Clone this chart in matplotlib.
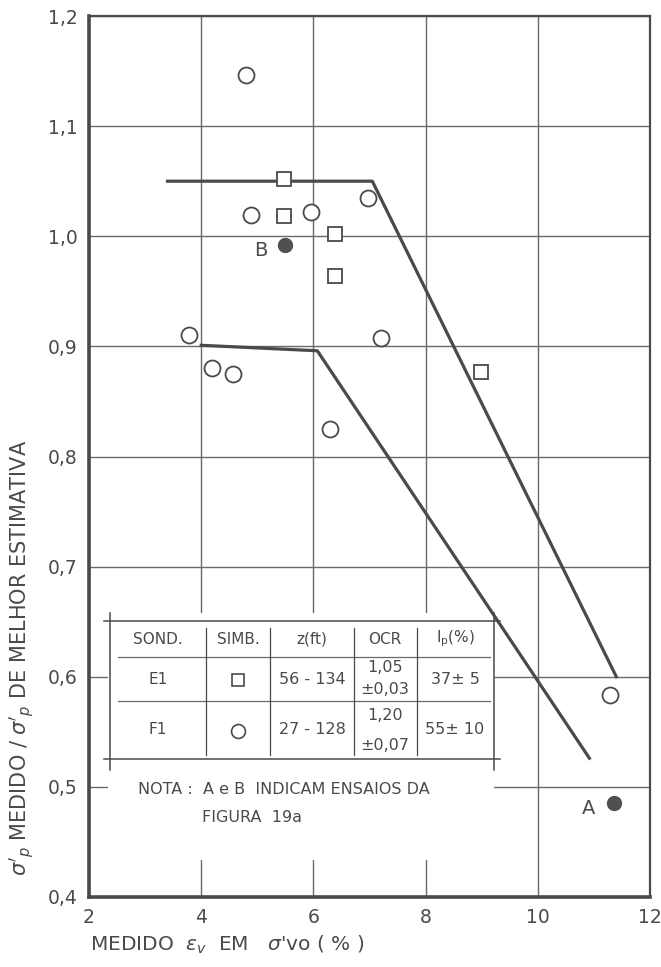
import matplotlib
matplotlib.use("Agg")
import matplotlib.pyplot as plt
from matplotlib.patches import Rectangle
from matplotlib.ticker import FuncFormatter

plt.rcParams["font.family"] = ["DejaVu Sans"]
plt.rcParams["mathtext.fontset"] = "dejavusans"

INK = "#4a4a4a"
GRID = "#6a6a6a"

# sondagem F1 (circulos)
f1_strain = [4.79, 4.88, 5.96, 6.98, 3.79, 4.20, 4.57, 7.20, 6.30, 11.29]
f1_ratio = [1.146, 1.019, 1.022, 1.035, 0.910, 0.880, 0.875, 0.908, 0.825, 0.583]

# sondagem E1 (quadrados)
e1_strain = [5.48, 5.48, 6.39, 6.39, 8.99]
e1_ratio = [1.052, 1.018, 1.002, 0.964, 0.877]

# ensaios A e B (pontos cheios)
ab_labels = ["B", "A"]
ab_strain = [5.50, 11.35]
ab_ratio = [0.992, 0.485]

# envoltorias
upper_x = [3.4, 7.05, 11.40]
upper_y = [1.05, 1.05, 0.60]
lower_x = [4.0, 6.07, 10.92]
lower_y = [0.901, 0.896, 0.526]

x_ticks = [2, 4, 6, 8, 10, 12]
y_ticks = [0.4, 0.5, 0.6, 0.7, 0.8, 0.9, 1.0, 1.1, 1.2]

fig = plt.figure(figsize=(6.61, 9.67), dpi=100)
ax = fig.add_axes([89 / 661, 1 - 897 / 967, 561 / 661, 881 / 967])

ax.set_xlim(2, 12)
ax.set_ylim(0.4, 1.2)
ax.set_xticks(x_ticks)
ax.set_yticks(y_ticks)
ax.yaxis.set_major_formatter(FuncFormatter(lambda v, p: f"{v:.1f}".replace(".", ",")))
ax.tick_params(length=0, labelsize=13.5, colors=INK, pad=8)
ax.grid(True, color=GRID, linewidth=1.0)
ax.set_axisbelow(True)
for side in ["left", "bottom"]:
    ax.spines[side].set_linewidth(2.6)
for side in ["top", "right"]:
    ax.spines[side].set_linewidth(1.6)
for sp in ax.spines.values():
    sp.set_color(INK)

# fundo branco da tabela e da nota
ax.add_patch(Rectangle((2.34, 0.434), 9.22 - 2.34, 0.658 - 0.434,
                       facecolor="white", edgecolor="none", zorder=1))

ax.plot(upper_x, upper_y, color=INK, linewidth=2.3, zorder=2)
ax.plot(lower_x, lower_y, color=INK, linewidth=2.3, zorder=2)

ax.plot(f1_strain, f1_ratio, linestyle="none", marker="o", markersize=11.5,
        markerfacecolor="white", markeredgecolor=INK, markeredgewidth=1.3, zorder=3)
ax.plot(e1_strain, e1_ratio, linestyle="none", marker="s", markersize=9.5,
        markerfacecolor="white", markeredgecolor=INK, markeredgewidth=1.3, zorder=3)
ax.plot(ab_strain, ab_ratio, linestyle="none", marker="o", markersize=10,
        markerfacecolor="#505050", markeredgecolor="#505050", zorder=3)
for lab, xv, yv in zip(ab_labels, ab_strain, ab_ratio):
    ax.annotate(lab, (xv, yv), xytext=(-18, -4), textcoords="offset points",
                fontsize=14, color=INK, va="center", ha="center")

# eixos: rotulos
fig.text(90 / 661, 1 - 945 / 967, r"MEDIDO  $\epsilon_v$  EM   $\sigma$'vo ( % )",
         fontsize=14.5, color=INK, ha="left", va="center")
fig.text(22 / 661, 1 - 658 / 967,
         r"$\sigma'_p$ MEDIDO / $\sigma'_p$ DE MELHOR ESTIMATIVA",
         fontsize=15, color=INK, rotation=90, ha="center", va="center")

# tabela em coordenadas de pixel
tab = fig.add_axes([0, 0, 1, 1], zorder=5)
tab.set_xlim(0, 661)
tab.set_ylim(967, 0)
tab.axis("off")

lw = 1.1
tab.plot([104, 500], [621, 621], color=INK, lw=lw)
tab.plot([104, 500], [759, 759], color=INK, lw=lw)
tab.plot([110, 110], [613, 770], color=INK, lw=lw)
tab.plot([494, 494], [613, 770], color=INK, lw=lw)
tab.plot([118, 490], [657, 657], color=GRID, lw=0.9)
tab.plot([118, 490], [701, 701], color=GRID, lw=0.9)
for cx in [206, 270, 354, 417]:
    tab.plot([cx, cx], [628, 755], color=INK, lw=0.9)

headers = ["SOND.", "SIMB.", "z(ft)", "OCR", r"I$_\mathrm{p}$(%)"]
col_x = [158, 238, 312, 385, 455]
for h, cx in zip(headers, col_x):
    tab.text(cx, 639, h, fontsize=11, color=INK, ha="center", va="center")

tab.text(158, 679, "E1", fontsize=11, color=INK, ha="center", va="center")
tab.plot([238], [680], marker="s", markersize=9, markerfacecolor="white",
         markeredgecolor=INK, markeredgewidth=1.2)
tab.text(312, 679, "56 - 134", fontsize=11.5, color=INK, ha="center", va="center")
tab.text(385, 668, "1,05", fontsize=11.5, color=INK, ha="center", va="center")
tab.text(385, 690, "±0,03", fontsize=11.5, color=INK, ha="center", va="center")
tab.text(455, 679, "37± 5", fontsize=11.5, color=INK, ha="center", va="center")

tab.text(158, 730, "F1", fontsize=11, color=INK, ha="center", va="center")
tab.plot([238], [731], marker="o", markersize=10, markerfacecolor="white",
         markeredgecolor=INK, markeredgewidth=1.2)
tab.text(312, 730, "27 - 128", fontsize=11.5, color=INK, ha="center", va="center")
tab.text(385, 715, "1,20", fontsize=11.5, color=INK, ha="center", va="center")
tab.text(385, 745, "±0,07", fontsize=11.5, color=INK, ha="center", va="center")
tab.text(455, 730, "55± 10", fontsize=11.5, color=INK, ha="center", va="center")

tab.text(138, 790, "NOTA :  A e B  INDICAM ENSAIOS DA", fontsize=11.5, color=INK,
         ha="left", va="center")
tab.text(202, 817, "FIGURA  19a", fontsize=11.5, color=INK, ha="left", va="center")

fig.savefig("out.png", dpi=100)
